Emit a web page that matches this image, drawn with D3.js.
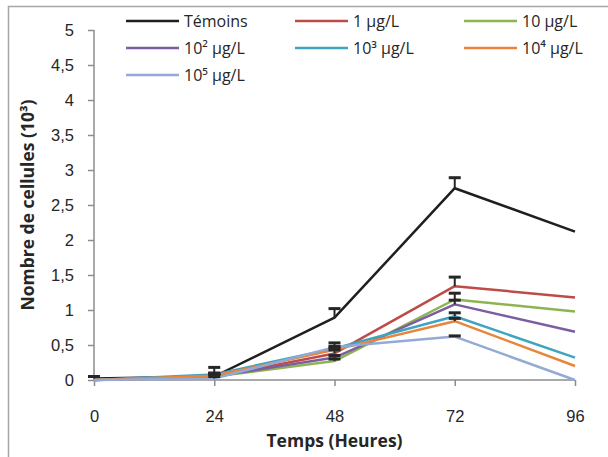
<!DOCTYPE html>
<html>
<head>
<meta charset="utf-8">
<script src="https://cdn.jsdelivr.net/npm/d3@7"></script>
<style>
  body { margin: 0; background: #fff; }
  svg { display: block; font-family: "Open Sans", "Noto Sans", sans-serif; }
</style>
</head>
<body>
<svg id="graph"></svg>
<script>
// data
const hours = [0, 24, 48, 72, 96];
const seriesNames = ["Témoins", "1 µg/L", "10 µg/L", "10² µg/L", "10³ µg/L", "10⁴ µg/L", "10⁵ µg/L"];
const temoins = [0.02, 0.05, 0.89, 2.74, 2.12];
const c1 = [0, 0.04, 0.38, 1.34, 1.18];
const c10 = [0, 0.05, 0.27, 1.15, 0.98];
const c100 = [0, 0.05, 0.32, 1.08, 0.69];
const c1000 = [0, 0.08, 0.45, 0.91, 0.32];
const c10000 = [0, 0.06, 0.43, 0.84, 0.20];
const c100000 = [0, 0.02, 0.47, 0.62, 0];
// plus error bars
const errTemoins = [0.03, 0.13, 0.13, 0.15, 0];
const err1 = [0, 0.05, 0.05, 0.13, 0];
const err10 = [0, 0.04, 0.03, 0.09, 0];
const err100 = [0, 0.03, 0.03, 0.06, 0];
const err1000 = [0, 0.02, 0.03, 0.05, 0];
const err10000 = [0, 0.03, 0.03, 0.04, 0];
const err100000 = [0, 0.03, 0.06, 0.01, 0];
const yTicks = [0, 0.5, 1, 1.5, 2, 2.5, 3, 3.5, 4, 4.5, 5];
const colors = ["#1f1f1f", "#be4b48", "#8db450", "#7b5ea0", "#3fa4bf", "#e9853b", "#93aad6"];

const values = [temoins, c1, c10, c100, c1000, c10000, c100000];
const errors = [errTemoins, err1, err10, err100, err1000, err10000, err100000];
const series = seriesNames.map((name, i) => ({
  name, color: colors[i],
  points: hours.map((h, j) => ({ h, v: values[i][j], e: errors[i][j] }))
}));

const width = 608, height = 457;
const margin = { top: 30, right: 33, bottom: 77, left: 94 };

const svg = d3.select("#graph")
  .attr("width", width)
  .attr("height", height);

// outer frame (cut off on the right and bottom in the reference)
svg.append("path")
  .attr("d", `M8.5,${height} V6.5 H${width}`)
  .attr("fill", "none")
  .attr("stroke", "#a6a6a6")
  .attr("stroke-width", 1.5);

const xScale = d3.scaleLinear()
  .domain([0, 96])
  .range([margin.left, width - margin.right]);

const yScale = d3.scaleLinear()
  .domain([0, 5])
  .range([height - margin.bottom, margin.top]);

const fmt = d => String(d).replace(".", ",");

const xAxis = d3.axisBottom(xScale).tickValues(hours).tickSize(6).tickPadding(24);
const yAxis = d3.axisLeft(yScale).tickValues(yTicks).tickFormat(fmt).tickSize(6).tickPadding(14);

const xAxisGroup = svg.append("g")
  .attr("class", "x-axis")
  .attr("transform", `translate(0,${height - margin.bottom})`)
  .call(xAxis);

const yAxisGroup = svg.append("g")
  .attr("class", "y-axis")
  .attr("transform", `translate(${margin.left},0)`)
  .call(yAxis);

[xAxisGroup, yAxisGroup].forEach(g => {
  g.select(".domain").attr("stroke", "#8c8c8c").attr("stroke-width", 1.5);
  g.selectAll(".tick line").attr("stroke", "#8c8c8c").attr("stroke-width", 1.5);
  g.selectAll(".tick text").attr("fill", "#262626").style("font-size", "16.5px");
});
xAxisGroup.select(".domain").attr("d", `M${margin.left},0H${width - margin.right}`);
yAxisGroup.select(".domain").attr("d", `M0,${margin.top}V${height - margin.bottom}`);

// axis titles
svg.append("text")
  .attr("x", (margin.left + width - margin.right) / 2)
  .attr("y", 447)
  .attr("text-anchor", "middle")
  .attr("fill", "#262626")
  .style("font-size", "17.5px")
  .style("font-weight", "bold")
  .text("Temps (Heures)");

svg.append("text")
  .attr("transform", "translate(34,205) rotate(-90)")
  .attr("text-anchor", "middle")
  .attr("fill", "#262626")
  .style("font-size", "17.5px")
  .style("font-weight", "bold")
  .text("Nombre de cellules (10³)");

// lines
const line = d3.line()
  .x(d => xScale(d.h))
  .y(d => yScale(d.v));

svg.append("g")
  .selectAll("path")
  .data(series)
  .join("path")
  .attr("d", d => line(d.points))
  .attr("fill", "none")
  .attr("stroke", d => d.color)
  .attr("stroke-width", 2.5)
  .attr("stroke-linejoin", "round");

// error bars (plus direction only)
const bars = svg.append("g")
  .selectAll("g")
  .data(series.flatMap(s => s.points.filter(p => p.e > 0)))
  .join("g");

bars.append("line")
  .attr("x1", d => xScale(d.h)).attr("x2", d => xScale(d.h))
  .attr("y1", d => yScale(d.v)).attr("y2", d => yScale(d.v + d.e))
  .attr("stroke", "#262626")
  .attr("stroke-width", 2);

bars.append("line")
  .attr("x1", d => xScale(d.h) - 6).attr("x2", d => xScale(d.h) + 6)
  .attr("y1", d => yScale(d.v + d.e)).attr("y2", d => yScale(d.v + d.e))
  .attr("stroke", "#262626")
  .attr("stroke-width", 3);

// legend, 3 columns
const legend = svg.append("g")
  .selectAll("g")
  .data(series)
  .join("g")
  .attr("transform", (d, i) => `translate(${126 + (i % 3) * 169},${21 + Math.floor(i / 3) * 27})`);

legend.append("line")
  .attr("x1", 0).attr("x2", 53)
  .attr("stroke", d => d.color)
  .attr("stroke-width", 2.5);

legend.append("text")
  .attr("x", 58)
  .attr("dy", "0.35em")
  .attr("fill", "#262626")
  .style("font-size", "16px")
  .text(d => d.name);
</script>
</body>
</html>
